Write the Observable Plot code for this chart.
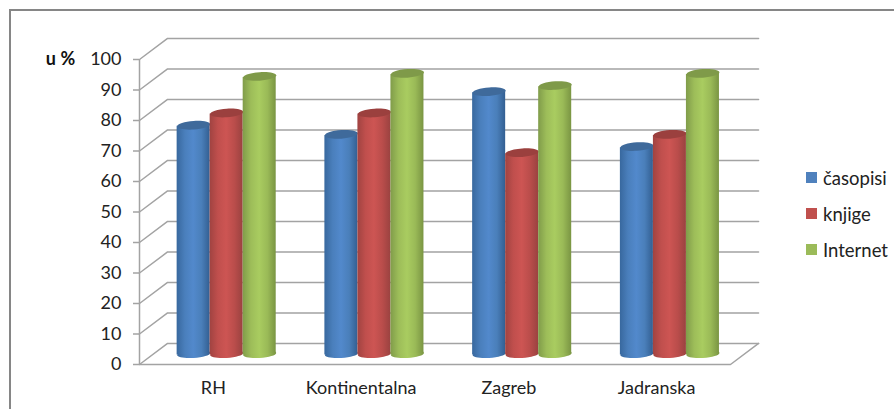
<!DOCTYPE html>
<html>
<head>
<meta charset="utf-8">
<script src="https://cdn.jsdelivr.net/npm/d3@7"></script>
<script src="https://cdn.jsdelivr.net/npm/@observablehq/plot@0.6"></script>
<style>
  html, body { margin: 0; padding: 0; background: #fff; overflow: hidden; }
  #wrap { position: relative; width: 894px; height: 409px; font-family: Lato, sans-serif; color: #222; }
  #wrap svg { display: block; position: absolute; left: 0; top: 0; background: transparent; }
  #frame { position: absolute; left: 9px; top: 9px; right: -4px; bottom: -4px; border: 2px solid #868686; box-sizing: border-box; }
  .key { position: absolute; left: 806px; font-size: 18.5px; line-height: 22px; height: 22px; white-space: nowrap; }
  .key i { position: absolute; left: 0; top: 5px; width: 11px; height: 11px; }
  .key span { position: absolute; left: 17px; top: 0; }
</style>
</head>
<body>
<div id="wrap"><div id="frame"></div></div>
<script>
const categories = ["RH", "Kontinentalna", "Zagreb", "Jadranska"];
const casopisi = [75, 72, 86, 68];
const knjige   = [79, 79, 66, 72];
const internet = [91, 92, 88, 92];
const seriesNames = ["časopisi", "knjige", "Internet"];
const yTicks = [0, 10, 20, 30, 40, 50, 60, 70, 80, 90, 100];

const seriesValues = [casopisi, knjige, internet];
const gradients = [
  {id: "gBlue",  stops: ["#38689e", "#4a7fbc", "#5289cc", "#4a7fba", "#335f92"], cap: "#3f6a9b", key: "#4f81bd"},
  {id: "gRed",   stops: ["#a04341", "#c04f4d", "#cd5553", "#ba4d4b", "#9a4240"], cap: "#9b403e", key: "#c0504d"},
  {id: "gGreen", stops: ["#809c4a", "#9dbd59", "#a9cc60", "#9aba57", "#7a9543"], cap: "#7f9a49", key: "#9bbb59"}
];

// oblique projection, in data units
const depthX = 0.19, depthY = 6.9;
const barW = 0.2235;
const lean = 0.35; // tilt of the cylinder ends, in percent

const bars = seriesValues.map((vals, s) => categories.map((c, i) => {
  const cx = i + 0.5 + depthX / 2 - 0.005 + (s - 1) * barW;
  return {id: i, x: cx, x1: cx - barW / 2, x2: cx + barW / 2, y0: depthY / 2, y1: vals[i] + depthY / 2};
}));
const bodies = bars.map(data => data.flatMap(d => [
  {id: d.id, x: d.x1, bottom: d.y0 - lean, top: d.y1 - lean},
  {id: d.id, x: d.x2, bottom: d.y0 + lean, top: d.y1 + lean}
]));

const tilted = ratio => ({
  draw(ctx, size) {
    const r = Math.sqrt(size / Math.PI), ry = r * ratio, t = r * 0.065, k = 0.5523;
    const P = (u, v) => [u * r, v * ry - u * t];
    const c = (a, b, d) => ctx.bezierCurveTo(...P(...a), ...P(...b), ...P(...d));
    ctx.moveTo(...P(-1, 0));
    c([-1, -k], [-k, -1], [0, -1]);
    c([k, -1], [1, -k], [1, 0]);
    c([1, k], [k, 1], [0, 1]);
    c([-k, 1], [-1, k], [-1, 0]);
    ctx.closePath();
  }
});

const defs = () => {
  const d = d3.create("svg:defs");
  gradients.forEach(g => {
    const lg = d.append("linearGradient").attr("id", g.id).attr("x1", 0).attr("x2", 1).attr("y1", 0).attr("y2", 0);
    [0, 0.25, 0.5, 0.75, 1].forEach((o, i) => lg.append("stop").attr("offset", o).attr("stop-color", g.stops[i]));
  });
  return d.node();
};

const gridStyle = {stroke: "#a3a3a3", strokeWidth: 1.5};
const gridLines = yTicks.map(t => Plot.line(
  [[0, t], [depthX, t + depthY], [4 + depthX, t + depthY]], gridStyle));

const barMarks = bars.flatMap((data, s) => {
  const g = gradients[s];
  return [
    Plot.dot(data, {x: "x", y: "y0", r: 16.5, fill: `url(#${g.id})`, symbol: tilted(0.24)}),
    Plot.area(bodies[s], {x1: "x", y1: "bottom", y2: "top", z: "id", fill: `url(#${g.id})`}),
    Plot.dot(data, {x: "x", y: "y1", r: 16.5, fill: g.cap, symbol: tilted(0.26)})
  ];
});

const chart = Plot.plot({
  width: 894, height: 409,
  marginTop: 59, marginBottom: 45, marginLeft: 139, marginRight: 164,
  style: {fontFamily: "Lato, sans-serif", background: "transparent", overflow: "visible"},
  x: {type: "linear", domain: [0, 4], axis: null},
  y: {type: "linear", domain: [0, 100], axis: null},
  marks: [
    defs,
    ...gridLines,
    Plot.line([[0, 0], [4, 0], [4 + depthX, depthY]], gridStyle),
    Plot.ruleX([0], {y1: 0, y2: 100, ...gridStyle}),
    Plot.axisY(yTicks, {
      anchor: "left", tickSize: 6, tickPadding: 12, label: null,
      stroke: "#a3a3a3", strokeWidth: 1.5, fontSize: 18, fill: "#222",
      tickFormat: d => String(d)
    }),
    ...barMarks,
    Plot.text(categories, {
      x: (d, i) => i + 0.5, y: () => 0, text: d => d, dy: 24,
      fontSize: 18, fill: "#222", textAnchor: "middle"
    }),
    Plot.text(["u %"], {
      x: () => 0, y: () => 100, text: d => d, dx: -79,
      fontSize: 18, fontWeight: "bold", fill: "#111", textAnchor: "middle"
    })
  ]
});

const wrap = document.getElementById("wrap");
wrap.appendChild(chart);
seriesNames.forEach((name, s) => {
  const k = document.createElement("div");
  k.className = "key";
  k.style.top = (167 + s * 36) + "px";
  const i = document.createElement("i");
  i.style.background = gradients[s].key;
  const t = document.createElement("span");
  t.textContent = name;
  k.append(i, t);
  wrap.appendChild(k);
});
</script>
</body>
</html>
